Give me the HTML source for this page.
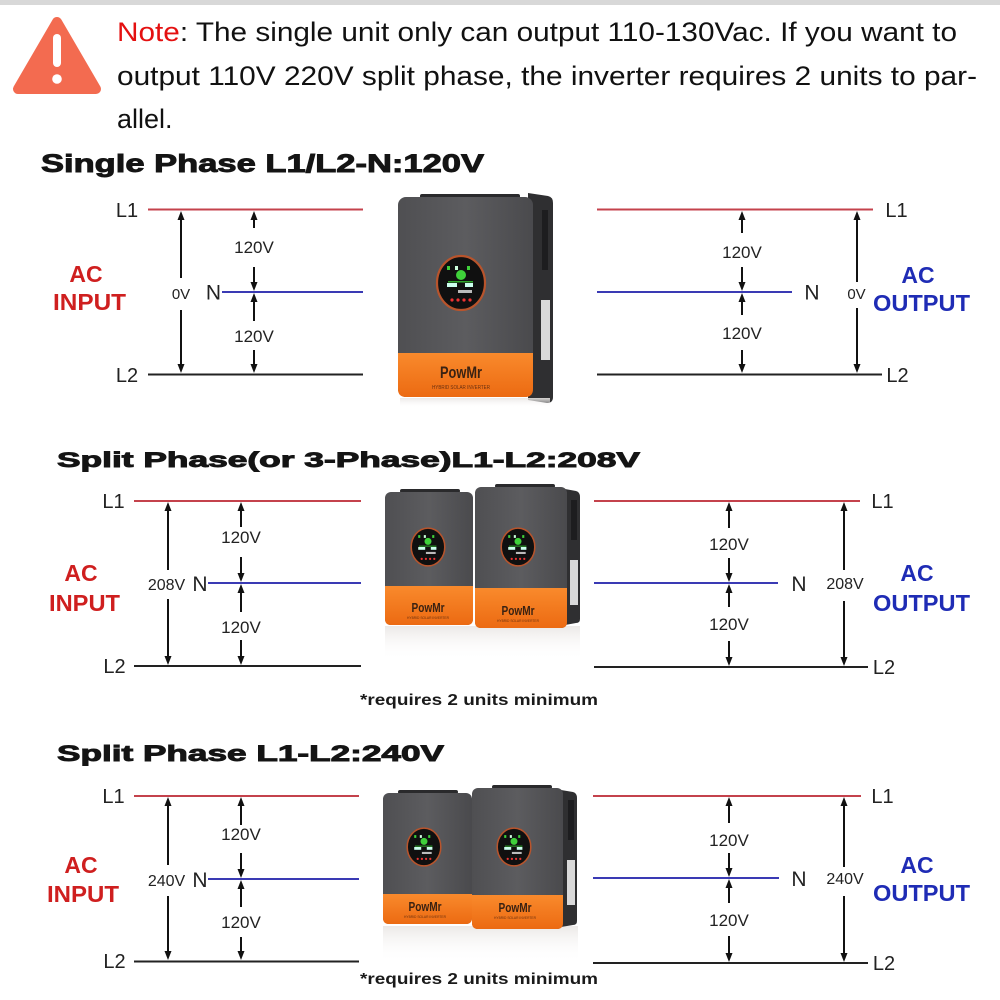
<!DOCTYPE html>
<html>
<head>
<meta charset="utf-8">
<style>
  html,body{margin:0;padding:0;background:#fff;}
  svg{display:block;}
  .lbl{font-family:"Liberation Sans",Arial,sans-serif;fill:#222;}
  .hd{font-family:"Liberation Sans",Arial,sans-serif;font-weight:900;fill:#141414;stroke:#141414;stroke-width:0.9;}
  .in{font-family:"Liberation Sans",Arial,sans-serif;font-weight:bold;fill:#cf1f1f;font-size:23px;}
  .out{font-family:"Liberation Sans",Arial,sans-serif;font-weight:bold;fill:#1f2cb5;font-size:23px;}
  .pw{font-family:"Liberation Sans",Arial,sans-serif;font-weight:bold;fill:#3a2212;}
</style>
</head>
<body>
<svg width="1000" height="1000" viewBox="0 0 1000 1000" xmlns="http://www.w3.org/2000/svg">
<defs>
  <linearGradient id="gf" x1="0" y1="0" x2="1" y2="0">
    <stop offset="0" stop-color="#4f4f52"/>
    <stop offset="0.5" stop-color="#5c5c5f"/>
    <stop offset="1" stop-color="#4a4a4d"/>
  </linearGradient>
  <linearGradient id="go" x1="0" y1="0" x2="0" y2="1">
    <stop offset="0" stop-color="#f98a2c"/>
    <stop offset="1" stop-color="#ec6a12"/>
  </linearGradient>
  <linearGradient id="gr" x1="0" y1="0" x2="0" y2="1">
    <stop offset="0" stop-color="#e9e6e4" stop-opacity="0.9"/>
    <stop offset="1" stop-color="#ffffff" stop-opacity="0"/>
  </linearGradient>
  <g id="disp">
    <ellipse cx="0" cy="0" rx="24" ry="27" fill="#101010" stroke="#b8542c" stroke-width="2.2"/>
    <circle cx="0" cy="-8" r="5" fill="#3fd13a"/>
    <rect x="-14" y="-17" width="3" height="4" fill="#3fd13a"/>
    <rect x="-6" y="-17" width="3" height="4" fill="#cfd"/>
    <rect x="6" y="-17" width="3" height="4" fill="#3fd13a"/>
    <rect x="-14" y="0" width="10" height="4" fill="#cfe"/>
    <rect x="4" y="0" width="8" height="4" fill="#cfe"/>
    <rect x="-13" y="-2" width="25" height="1.5" fill="#2fa52b"/>
    <rect x="-3" y="7" width="14" height="3" fill="#bbb"/>
    <circle cx="-9" cy="17" r="1.6" fill="#e33"/>
    <circle cx="-3" cy="17" r="1.6" fill="#e33"/>
    <circle cx="3" cy="17" r="1.6" fill="#e33"/>
    <circle cx="9" cy="17" r="1.6" fill="#e33"/>
  </g>
</defs>

<!-- top bar -->
<rect x="0" y="0" width="1000" height="5" fill="#d8d8d8"/>

<!-- warning icon -->
<path d="M57,22 L18,89 L96,89 Z" fill="#f36b50" stroke="#f36b50" stroke-width="10" stroke-linejoin="round"/>
<rect x="53" y="34" width="8" height="33" rx="4" fill="#fff"/>
<circle cx="57" cy="79" r="4.8" fill="#fff"/>

<!-- note text -->
<text x="117" y="41" font-family="Liberation Sans, Arial, sans-serif" font-size="27" fill="#111" textLength="840" lengthAdjust="spacingAndGlyphs"><tspan fill="#e41010">Note</tspan>: The single unit only can output 110-130Vac. If you want to</text>
<text x="117" y="85" font-family="Liberation Sans, Arial, sans-serif" font-size="27" fill="#111" textLength="860" lengthAdjust="spacingAndGlyphs">output 110V 220V split phase, the inverter requires 2 units to par-</text>
<text x="117" y="128" font-family="Liberation Sans, Arial, sans-serif" font-size="27" fill="#111">allel.</text>

<!-- headings -->
<text class="hd" x="41" y="172" font-size="25" textLength="443" lengthAdjust="spacingAndGlyphs">Single Phase L1/L2-N:120V</text>
<text class="hd" x="57" y="467" font-size="21" textLength="583" lengthAdjust="spacingAndGlyphs">Split Phase(or 3-Phase)L1-L2:208V</text>
<text class="hd" x="57" y="761" font-size="22" textLength="387" lengthAdjust="spacingAndGlyphs">Split Phase L1-L2:240V</text>

<!-- ================= SECTION 1 ================= -->
<g stroke-width="2" fill="none">
  <line x1="148" y1="209.5" x2="363" y2="209.5" stroke="#c4424c"/>
  <line x1="222" y1="292" x2="363" y2="292" stroke="#3a3ab4"/>
  <line x1="148" y1="374.5" x2="363" y2="374.5" stroke="#222"/>
  <line x1="597" y1="209.5" x2="873" y2="209.5" stroke="#c4424c"/>
  <line x1="597" y1="292" x2="792" y2="292" stroke="#3a3ab4"/>
  <line x1="597" y1="374.5" x2="882" y2="374.5" stroke="#222"/>
</g>
<g stroke="#111" stroke-width="2">
  <line x1="181" y1="215" x2="181" y2="278"/><line x1="181" y1="310" x2="181" y2="369"/>
  <line x1="254" y1="215" x2="254" y2="228"/><line x1="254" y1="267" x2="254" y2="287"/>
  <line x1="254" y1="297" x2="254" y2="321"/><line x1="254" y1="350" x2="254" y2="369"/>
  <line x1="742" y1="215" x2="742" y2="233"/><line x1="742" y1="267" x2="742" y2="287"/>
  <line x1="742" y1="297" x2="742" y2="315"/><line x1="742" y1="350" x2="742" y2="369"/>
  <line x1="857" y1="215" x2="857" y2="282"/><line x1="857" y1="308" x2="857" y2="369"/>
</g>
<g fill="#111">
  <polygon points="181,211 177.5,220 184.5,220"/><polygon points="181,373 177.5,364 184.5,364"/>
  <polygon points="254,211 250.5,220 257.5,220"/><polygon points="254,291 250.5,282 257.5,282"/>
  <polygon points="254,293 250.5,302 257.5,302"/><polygon points="254,373 250.5,364 257.5,364"/>
  <polygon points="742,211 738.5,220 745.5,220"/><polygon points="742,291 738.5,282 745.5,282"/>
  <polygon points="742,293 738.5,302 745.5,302"/><polygon points="742,373 738.5,364 745.5,364"/>
  <polygon points="857,211 853.5,220 860.5,220"/><polygon points="857,373 853.5,364 860.5,364"/>
</g>
<g class="lbl" text-anchor="middle">
  <text x="127" y="217" font-size="20">L1</text>
  <text x="127" y="382" font-size="20">L2</text>
  <text x="213.5" y="299.5" font-size="21">N</text>
  <text x="181" y="299" font-size="15">0V</text>
  <text x="254" y="253" font-size="17">120V</text>
  <text x="254" y="342" font-size="17">120V</text>
  <text x="896.5" y="217" font-size="20">L1</text>
  <text x="897.5" y="382" font-size="20">L2</text>
  <text x="812" y="299.5" font-size="21">N</text>
  <text x="856.5" y="299" font-size="15">0V</text>
  <text x="742" y="258" font-size="17">120V</text>
  <text x="742" y="339" font-size="17">120V</text>
</g>
<text class="in" x="86" y="282" text-anchor="middle">AC</text>
<text class="in" x="53" y="310" textLength="73" lengthAdjust="spacingAndGlyphs">INPUT</text>
<text class="out" x="918" y="283" text-anchor="middle">AC</text>
<text class="out" x="873" y="311" textLength="97" lengthAdjust="spacingAndGlyphs">OUTPUT</text>

<!-- inverter 1 -->
<g>
  <path d="M528,193 L548,196 Q553,197 553,203 L553,397 Q553,403 547,403 L528,400 Z" fill="#2f2f31"/>
  <rect x="542" y="210" width="6" height="60" fill="#1d1d1f"/>
  <rect x="541" y="300" width="9" height="60" fill="#d9d9d9"/>
  <rect x="420" y="194" width="100" height="5" rx="2" fill="#2a2a2c"/>
  <rect x="398" y="197" width="135" height="200" rx="8" fill="url(#gf)"/>
  <path d="M398,353 H533 V389 Q533,397 525,397 H406 Q398,397 398,389 Z" fill="url(#go)"/>
  <use href="#disp" x="461" y="283"/>
  <text class="pw" x="461" y="378" font-size="17" text-anchor="middle" textLength="42" lengthAdjust="spacingAndGlyphs">PowMr</text>
  <text x="461" y="389" font-family="Liberation Sans, Arial, sans-serif" font-size="5" fill="#6a3010" text-anchor="middle" textLength="58" lengthAdjust="spacingAndGlyphs">HYBRID SOLAR INVERTER</text>
  <rect x="400" y="398" width="150" height="10" fill="url(#gr)"/>
</g>

<!-- ================= SECTION 2 ================= -->
<g stroke-width="2" fill="none">
  <line x1="134" y1="501" x2="361" y2="501" stroke="#c4424c"/>
  <line x1="208" y1="583" x2="361" y2="583" stroke="#3a3ab4"/>
  <line x1="134" y1="666" x2="361" y2="666" stroke="#222"/>
  <line x1="594" y1="501" x2="860" y2="501" stroke="#c4424c"/>
  <line x1="594" y1="583" x2="778" y2="583" stroke="#3a3ab4"/>
  <line x1="594" y1="667" x2="868" y2="667" stroke="#222"/>
</g>
<g stroke="#111" stroke-width="2">
  <line x1="168" y1="506" x2="168" y2="570"/><line x1="168" y1="599" x2="168" y2="661"/>
  <line x1="241" y1="506" x2="241" y2="527"/><line x1="241" y1="557" x2="241" y2="578"/>
  <line x1="241" y1="588" x2="241" y2="612"/><line x1="241" y1="640" x2="241" y2="661"/>
  <line x1="729" y1="506" x2="729" y2="528"/><line x1="729" y1="558" x2="729" y2="578"/>
  <line x1="729" y1="588" x2="729" y2="607"/><line x1="729" y1="641" x2="729" y2="662"/>
  <line x1="844" y1="506" x2="844" y2="570"/><line x1="844" y1="601" x2="844" y2="662"/>
</g>
<g fill="#111">
  <polygon points="168,502 164.5,511 171.5,511"/><polygon points="168,665 164.5,656 171.5,656"/>
  <polygon points="241,502 237.5,511 244.5,511"/><polygon points="241,582 237.5,573 244.5,573"/>
  <polygon points="241,584 237.5,593 244.5,593"/><polygon points="241,665 237.5,656 244.5,656"/>
  <polygon points="729,502 725.5,511 732.5,511"/><polygon points="729,582 725.5,573 732.5,573"/>
  <polygon points="729,584 725.5,593 732.5,593"/><polygon points="729,666 725.5,657 732.5,657"/>
  <polygon points="844,502 840.5,511 847.5,511"/><polygon points="844,666 840.5,657 847.5,657"/>
</g>
<g class="lbl" text-anchor="middle">
  <text x="113.5" y="508" font-size="20">L1</text>
  <text x="114.5" y="673" font-size="20">L2</text>
  <text x="200" y="591" font-size="21">N</text>
  <text x="166.5" y="590" font-size="16">208V</text>
  <text x="241" y="543" font-size="17">120V</text>
  <text x="241" y="633" font-size="17">120V</text>
  <text x="882.5" y="508" font-size="20">L1</text>
  <text x="884" y="674" font-size="20">L2</text>
  <text x="799" y="591" font-size="21">N</text>
  <text x="845" y="589" font-size="16">208V</text>
  <text x="729" y="550" font-size="17">120V</text>
  <text x="729" y="630" font-size="17">120V</text>
</g>
<text class="in" x="81" y="581" text-anchor="middle">AC</text>
<text class="in" x="49" y="611" textLength="71" lengthAdjust="spacingAndGlyphs">INPUT</text>
<text class="out" x="917" y="581" text-anchor="middle">AC</text>
<text class="out" x="873" y="611" textLength="97" lengthAdjust="spacingAndGlyphs">OUTPUT</text>

<!-- inverters 2 -->
<g>
  <rect x="385" y="626" width="195" height="34" fill="url(#gr)"/>
  <path d="M565,489 L576,491 Q580,492 580,497 L580,619 Q580,623 576,623 L565,625 Z" fill="#2f2f31"/>
  <rect x="571" y="500" width="6" height="40" fill="#1d1d1f"/>
  <rect x="570" y="560" width="8" height="45" fill="#d9d9d9"/>
  <rect x="400" y="489" width="60" height="4" rx="2" fill="#2a2a2c"/>
  <rect x="385" y="492" width="88" height="133" rx="6" fill="url(#gf)"/>
  <path d="M385,586 H473 V619 Q473,625 467,625 H391 Q385,625 385,619 Z" fill="url(#go)"/>
  <use href="#disp" transform="translate(428,547) scale(0.7)"/>
  <text class="pw" x="428" y="612" font-size="13" text-anchor="middle" textLength="33" lengthAdjust="spacingAndGlyphs">PowMr</text>
  <text x="428" y="619" font-family="Liberation Sans, Arial, sans-serif" font-size="4" fill="#6a3010" text-anchor="middle" textLength="42" lengthAdjust="spacingAndGlyphs">HYBRID SOLAR INVERTER</text>

  <rect x="495" y="484" width="60" height="4" rx="2" fill="#2a2a2c"/>
  <rect x="475" y="487" width="92" height="141" rx="6" fill="url(#gf)"/>
  <path d="M475,588 H567 V622 Q567,628 561,628 H481 Q475,628 475,622 Z" fill="url(#go)"/>
  <use href="#disp" transform="translate(518,547) scale(0.7)"/>
  <text class="pw" x="518" y="615" font-size="13" text-anchor="middle" textLength="33" lengthAdjust="spacingAndGlyphs">PowMr</text>
  <text x="518" y="622" font-family="Liberation Sans, Arial, sans-serif" font-size="4" fill="#6a3010" text-anchor="middle" textLength="42" lengthAdjust="spacingAndGlyphs">HYBRID SOLAR INVERTER</text>
</g>
<text x="360" y="705" font-family="Liberation Sans, Arial, sans-serif" font-weight="bold" font-size="16" fill="#1a1a1a" textLength="238" lengthAdjust="spacingAndGlyphs">*requires 2 units minimum</text>

<!-- ================= SECTION 3 ================= -->
<g stroke-width="2" fill="none">
  <line x1="134" y1="796" x2="359" y2="796" stroke="#c4424c"/>
  <line x1="208" y1="879" x2="359" y2="879" stroke="#3a3ab4"/>
  <line x1="134" y1="961.5" x2="359" y2="961.5" stroke="#222"/>
  <line x1="593" y1="796" x2="861" y2="796" stroke="#c4424c"/>
  <line x1="593" y1="878" x2="779" y2="878" stroke="#3a3ab4"/>
  <line x1="593" y1="963" x2="868" y2="963" stroke="#222"/>
</g>
<g stroke="#111" stroke-width="2">
  <line x1="168" y1="801" x2="168" y2="865"/><line x1="168" y1="896" x2="168" y2="956"/>
  <line x1="241" y1="801" x2="241" y2="825"/><line x1="241" y1="853" x2="241" y2="874"/>
  <line x1="241" y1="884" x2="241" y2="907"/><line x1="241" y1="937" x2="241" y2="956"/>
  <line x1="729" y1="801" x2="729" y2="823"/><line x1="729" y1="853" x2="729" y2="873"/>
  <line x1="729" y1="883" x2="729" y2="903"/><line x1="729" y1="936" x2="729" y2="957"/>
  <line x1="844" y1="801" x2="844" y2="867"/><line x1="844" y1="896" x2="844" y2="957"/>
</g>
<g fill="#111">
  <polygon points="168,797 164.5,806 171.5,806"/><polygon points="168,960 164.5,951 171.5,951"/>
  <polygon points="241,797 237.5,806 244.5,806"/><polygon points="241,878 237.5,869 244.5,869"/>
  <polygon points="241,880 237.5,889 244.5,889"/><polygon points="241,960 237.5,951 244.5,951"/>
  <polygon points="729,797 725.5,806 732.5,806"/><polygon points="729,877 725.5,868 732.5,868"/>
  <polygon points="729,879 725.5,888 732.5,888"/><polygon points="729,962 725.5,953 732.5,953"/>
  <polygon points="844,797 840.5,806 847.5,806"/><polygon points="844,962 840.5,953 847.5,953"/>
</g>
<g class="lbl" text-anchor="middle">
  <text x="113.5" y="803" font-size="20">L1</text>
  <text x="114.5" y="968" font-size="20">L2</text>
  <text x="200" y="887" font-size="21">N</text>
  <text x="166.5" y="886" font-size="16">240V</text>
  <text x="241" y="840" font-size="17">120V</text>
  <text x="241" y="928" font-size="17">120V</text>
  <text x="882.5" y="803" font-size="20">L1</text>
  <text x="884" y="970" font-size="20">L2</text>
  <text x="799" y="886" font-size="21">N</text>
  <text x="845" y="884" font-size="16">240V</text>
  <text x="729" y="846" font-size="17">120V</text>
  <text x="729" y="926" font-size="17">120V</text>
</g>
<text class="in" x="81" y="873" text-anchor="middle">AC</text>
<text class="in" x="47" y="902" textLength="72" lengthAdjust="spacingAndGlyphs">INPUT</text>
<text class="out" x="917" y="873" text-anchor="middle">AC</text>
<text class="out" x="873" y="901" textLength="97" lengthAdjust="spacingAndGlyphs">OUTPUT</text>

<!-- inverters 3 -->
<g>
  <rect x="383" y="926" width="195" height="36" fill="url(#gr)"/>
  <path d="M561,790 L573,792 Q577,793 577,798 L577,921 Q577,925 573,925 L561,927 Z" fill="#2f2f31"/>
  <rect x="568" y="800" width="6" height="40" fill="#1d1d1f"/>
  <rect x="567" y="860" width="8" height="45" fill="#d9d9d9"/>
  <rect x="398" y="790" width="60" height="4" rx="2" fill="#2a2a2c"/>
  <rect x="383" y="793" width="89" height="131" rx="6" fill="url(#gf)"/>
  <path d="M383,894 H472 V918 Q472,924 466,924 H389 Q383,924 383,918 Z" fill="url(#go)"/>
  <use href="#disp" transform="translate(424,847) scale(0.7)"/>
  <text class="pw" x="425" y="911" font-size="13" text-anchor="middle" textLength="33" lengthAdjust="spacingAndGlyphs">PowMr</text>
  <text x="425" y="918" font-family="Liberation Sans, Arial, sans-serif" font-size="4" fill="#6a3010" text-anchor="middle" textLength="42" lengthAdjust="spacingAndGlyphs">HYBRID SOLAR INVERTER</text>

  <rect x="492" y="785" width="60" height="4" rx="2" fill="#2a2a2c"/>
  <rect x="472" y="788" width="91" height="141" rx="6" fill="url(#gf)"/>
  <path d="M472,895 H563 V923 Q563,929 557,929 H478 Q472,929 472,923 Z" fill="url(#go)"/>
  <use href="#disp" transform="translate(514,847) scale(0.7)"/>
  <text class="pw" x="515" y="912" font-size="13" text-anchor="middle" textLength="33" lengthAdjust="spacingAndGlyphs">PowMr</text>
  <text x="515" y="919" font-family="Liberation Sans, Arial, sans-serif" font-size="4" fill="#6a3010" text-anchor="middle" textLength="42" lengthAdjust="spacingAndGlyphs">HYBRID SOLAR INVERTER</text>
</g>
<text x="360" y="984" font-family="Liberation Sans, Arial, sans-serif" font-weight="bold" font-size="16" fill="#1a1a1a" textLength="238" lengthAdjust="spacingAndGlyphs">*requires 2 units minimum</text>

</svg>
</body>
</html>
